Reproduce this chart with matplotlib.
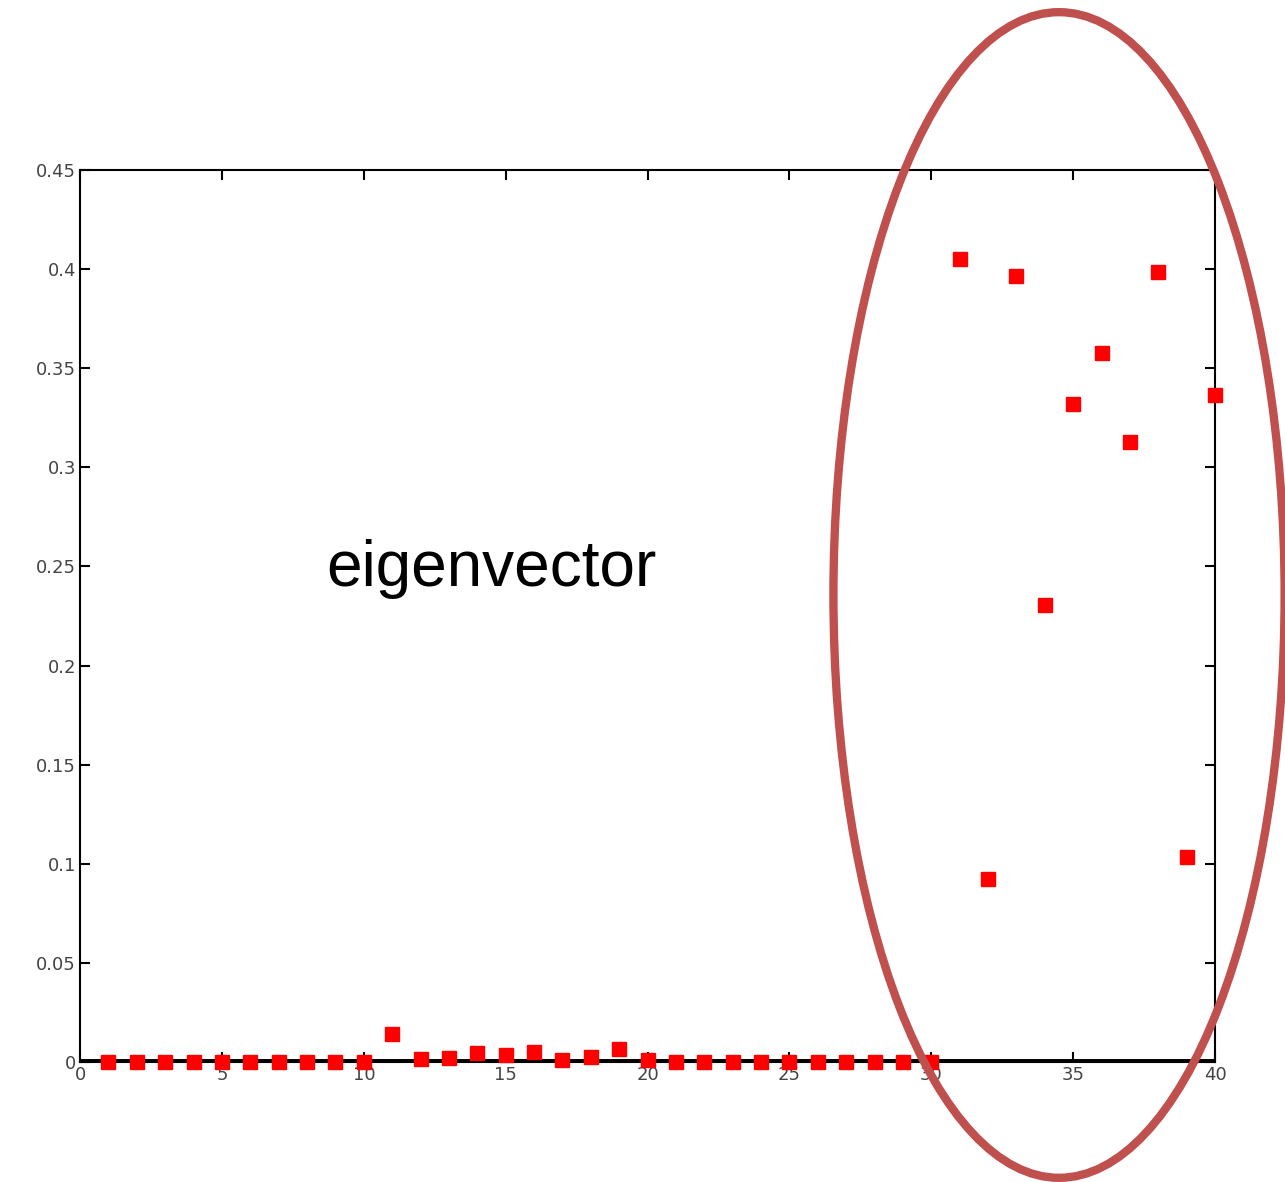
import matplotlib
matplotlib.use('Agg')
import matplotlib.pyplot as plt
from matplotlib.patches import Ellipse

# eigenvector entries, index 1..40
idx = list(range(1, 41))
vals = [0, 0, 0, 0, 0, 0, 0, 0, 0, 0,
        0.014, 0.0015, 0.002, 0.0045, 0.0035, 0.005, 0.001, 0.0025, 0.0065, 0.001,
        0, 0, 0, 0, 0, 0, 0, 0, 0, 0,
        0.405, 0.0923, 0.3966, 0.2306, 0.332, 0.3577, 0.3128, 0.3986, 0.1034, 0.3365]

xticks = [0, 5, 10, 15, 20, 25, 30, 35, 40]
yticks = [0, 0.05, 0.1, 0.15, 0.2, 0.25, 0.3, 0.35, 0.4, 0.45]
ytick_labels = ['0', '0.05', '0.1', '0.15', '0.2', '0.25', '0.3', '0.35', '0.4', '0.45']

fig = plt.figure(figsize=(12.85, 11.82), dpi=100)
ax = fig.add_axes([0.0623, 0.1015, 0.8833, 0.7547])

# thick baseline at zero
ax.plot([0, 40], [0, 0], color='black', linewidth=5, zorder=2)
ax.plot(idx, vals, linestyle='none', marker='s', markersize=10,
        color='red', markeredgecolor='red', zorder=3, clip_on=False)

ax.set_xlim(0, 40)
ax.set_ylim(0, 0.45)
ax.set_xticks(xticks)
ax.set_yticks(yticks)
ax.set_yticklabels(ytick_labels)
ax.tick_params(direction='in', length=7, width=1.5, top=True, right=True,
               labelsize=13, labelcolor='#444444', pad=3)
for s in ax.spines.values():
    s.set_linewidth(1.5)

ax.text(14.5, 0.24, 'eigenvector', fontsize=46, family='Liberation Sans',
        ha='center', va='baseline', color='black')

# highlight ellipse around the large entries
ell = Ellipse((34.5, 0.2356), 15.9, 0.588, fill=False, edgecolor='#C0504D',
              linewidth=6, clip_on=False, zorder=5)
ax.add_patch(ell)

fig.savefig('out.png', dpi=100)
